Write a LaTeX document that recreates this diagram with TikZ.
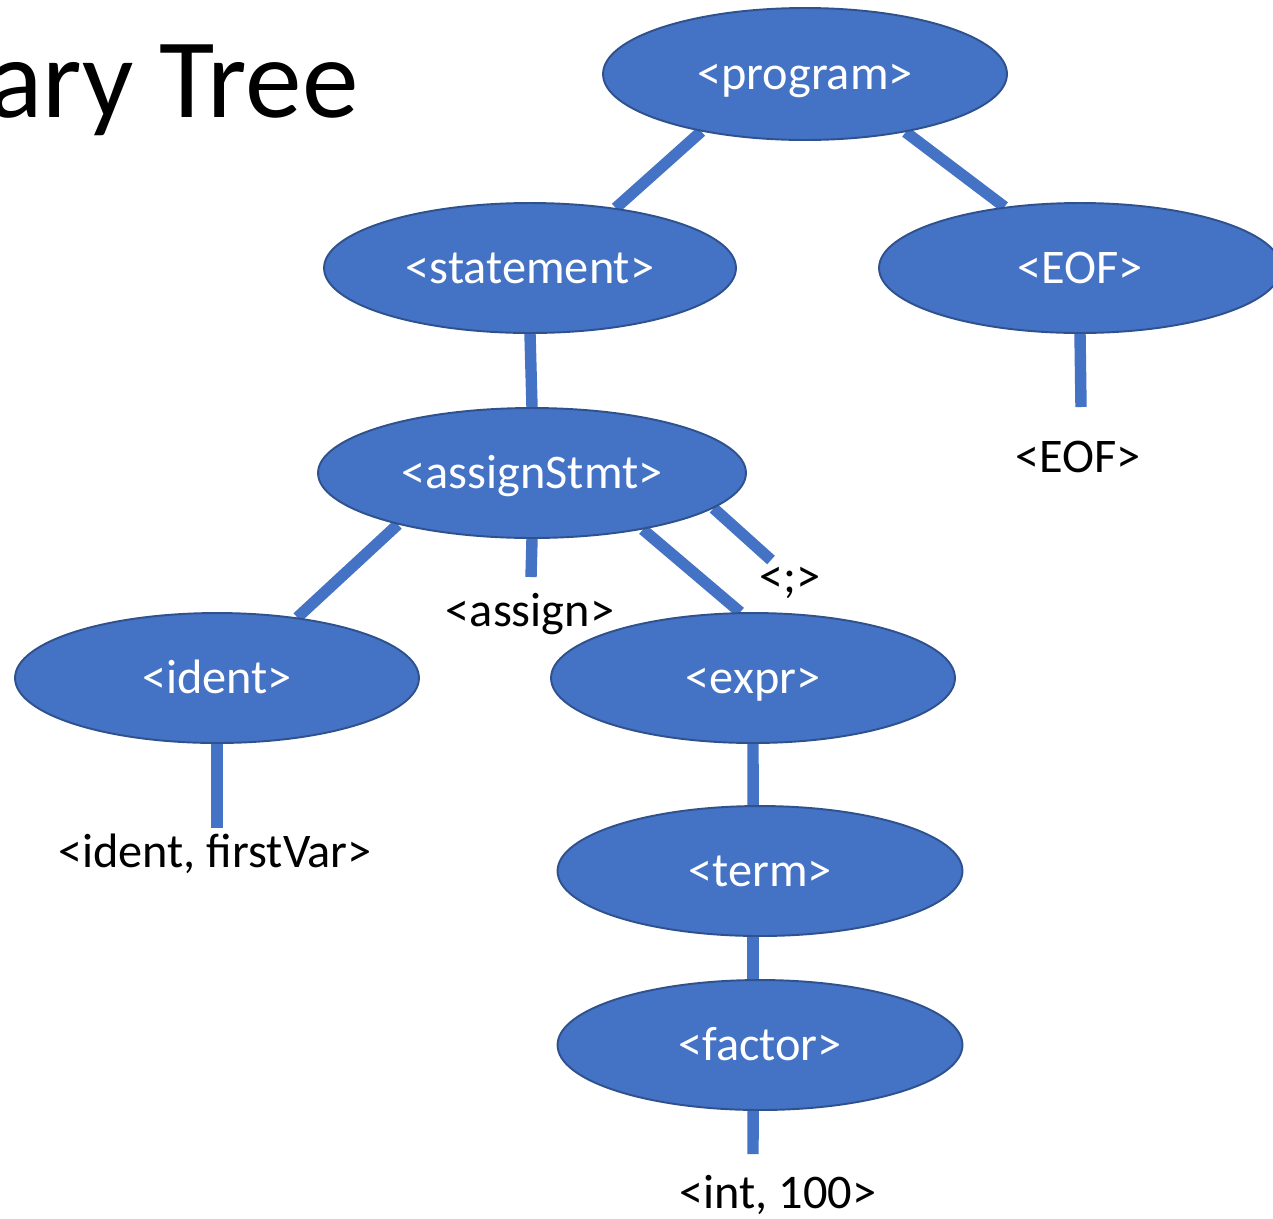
\documentclass[tikz,border=0pt]{standalone}
\usepackage{fontspec}
\setmainfont{Carlito}
\usetikzlibrary{shapes.geometric}
\pgfdeclarelayer{bg}
\pgfsetlayers{bg,main}
\definecolor{nodeblue}{HTML}{4472C4}
\definecolor{nodeedge}{HTML}{2F528F}
\begin{document}
\begin{tikzpicture}[x=0.02cm,y=-0.02cm,
  treenode/.style={ellipse, fill=nodeblue, draw=nodeedge, line width=1.1pt,
    minimum width=8.08cm, minimum height=2.6cm, inner sep=0pt, text=white,
    font=\fontsize{27.5}{31}\selectfont, text height=17.7pt, text depth=0pt},
  leaf/.style={anchor=base, inner sep=0pt, font=\fontsize{27.5}{31}\selectfont},
  link/.style={draw=nodeblue, line width=6.5pt}]
\useasboundingbox (0,0) rectangle (1273,1218);

\node[anchor=base east, inner sep=0pt, font=\fontsize{64.5}{72}\selectfont] (title) at (359,117) {ary Tree};

\node[treenode, minimum height=2.64cm] (program) at (805,74) {<program>};
\node[treenode, minimum width=8.24cm] (statement) at (530,268) {<statement>};
\node[treenode, minimum width=8.04cm] (eof) at (1080,268) {<EOF>};
\node[treenode, minimum width=8.56cm] (assignStmt) at (532,473) {<assignStmt>};
\node[treenode] (ident) at (217,678) {<ident>};
\node[treenode] (expr) at (753,678) {<expr>};
\node[treenode, minimum width=8.1cm] (term) at (760,871) {<term>};
\node[treenode, minimum width=8.1cm] (factor) at (760,1045) {<factor>};

\node[leaf] (eofleaf) at (1078,472) {<EOF>};
\node[leaf] (assignleaf) at (530,626) {<assign>};
\node[leaf] (semileaf) at (790,592) {<;>};
\node[leaf] (identleaf) at (215,867) {<ident, firstVar>};
\node[leaf] (intleaf) at (778,1208) {<int, 100>};

\coordinate (eofend) at (1081,407);
\coordinate (assignend) at (531,577);
\coordinate (semiend) at (771,560);
\coordinate (identend) at (217,828);
\coordinate (intend) at (753,1154);

\begin{pgfonlayer}{bg}
\fill[white] (0,0) rectangle (1273,1218);
\draw[link] (program.209) -- (statement.35);
\draw[link] (program.330) -- (eof.141);
\draw[link] (statement.south) -- (assignStmt.north);
\draw[link] (eof.south) -- (eofend);
\draw[link] (assignStmt.201) -- (ident.37);
\draw[link] (assignStmt.south) -- (assignend);
\draw[link] (assignStmt.333) -- (expr.101);
\draw[link] (assignStmt.349) -- (semiend);
\draw[link] (ident.south) -- (identend);
\draw[link] (expr.south) -- (term.96);
\draw[link] (term.264) -- (factor.96);
\draw[link] (factor.264) -- (intend);
\end{pgfonlayer}
\end{tikzpicture}
\end{document}
